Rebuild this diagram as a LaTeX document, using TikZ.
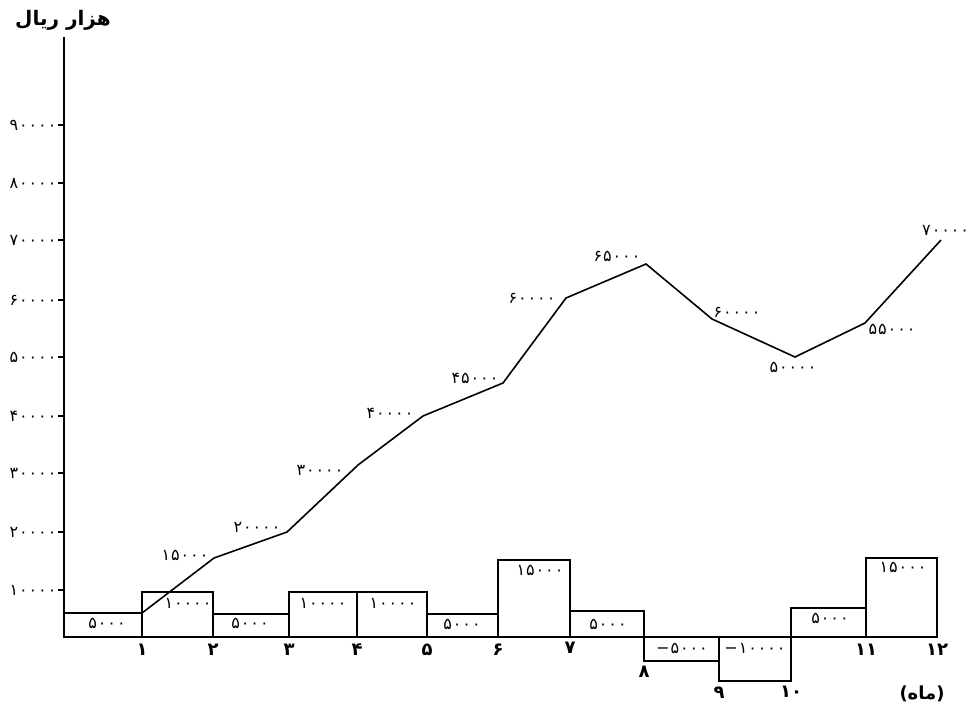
\documentclass[tikz,border=0pt]{standalone}
\usepackage{fontspec}
\newfontfamily\fa{DejaVu Sans}
\newfontfamily\faspaced{DejaVu Sans}[LetterSpace=6]
\newfontfamily\arabicfont[Script=Arabic]{DejaVu Sans}
\TeXXeTstate=1
\tikzset{
  axisline/.style={line width=2pt},
  barbox/.style={draw, line width=1.6pt},
  curveline/.style={line width=1.6pt, line join=miter},
  num/.style={font=\faspaced\fontsize{16}{18}\selectfont, inner sep=0pt},
  mon/.style={font=\fa\bfseries\fontsize{18}{20}\selectfont, inner sep=0pt},
  ttl/.style={font=\arabicfont\bfseries\fontsize{20}{24}\selectfont, inner sep=0pt},
}
\begin{document}
\begin{tikzpicture}[x=1pt,y=-1pt]
\useasboundingbox (0,0) rectangle (968,705);
% title
\node[ttl] (title) at (63,20) {\beginR هزار ریال\endR};
% axes
\coordinate (o) at (64,637);
\coordinate (ytop) at (64,37);
\coordinate (xend) at (937,637);
\draw[axisline] (ytop) -- (o) -- (xend);
% y ticks and labels
\foreach \y/\t in {125/۹۰۰۰۰,183/۸۰۰۰۰,240/۷۰۰۰۰,300/۶۰۰۰۰,357/۵۰۰۰۰,416/۴۰۰۰۰,473/۳۰۰۰۰,532/۲۰۰۰۰,590/۱۰۰۰۰}{
  \coordinate (t\y) at (64,\y);
  \draw[line width=1.2pt] (t\y) -- ++(-6,0) node[num, anchor=east, xshift=-1pt] (yl\y) {\t};
}
% bars
\draw[barbox] (64,637) rectangle (142,613);
\draw[barbox] (142,637) rectangle (213,592);
\draw[barbox] (213,637) rectangle (289,614);
\draw[barbox] (289,637) rectangle (357,592);
\draw[barbox] (357,637) rectangle (427,592);
\draw[barbox] (427,637) rectangle (498,614);
\draw[barbox] (498,637) rectangle (570,560);
\draw[barbox] (570,637) rectangle (644,611);
\draw[barbox] (644,637) rectangle (719,661);
\draw[barbox] (719,637) rectangle (791,681);
\draw[barbox] (791,637) rectangle (866,608);
\draw[barbox] (866,637) rectangle (937,558);
\draw[axisline] (o) -- (xend);
% bar labels
\node[num] (b1) at (107,623) {۵۰۰۰};
\node[num] (b2) at (188,603) {۱۰۰۰۰};
\node[num] (b3) at (250,623) {۵۰۰۰};
\node[num] (b4) at (323,603) {۱۰۰۰۰};
\node[num] (b5) at (393,603) {۱۰۰۰۰};
\node[num] (b6) at (462,624) {۵۰۰۰};
\node[num] (b7) at (540,570) {۱۵۰۰۰};
\node[num] (b8) at (608,624) {۵۰۰۰};
\node[num] (b9) at (682,648) {−۵۰۰۰};
\node[num] (b10) at (755,648) {−۱۰۰۰۰};
\node[num] (b11) at (830,618) {۵۰۰۰};
\node[num] (b12) at (903,567) {۱۵۰۰۰};
% month labels
\node[mon] (m1) at (142,650) {۱};
\node[mon] (m2) at (213,650) {۲};
\node[mon] (m3) at (289,650) {۳};
\node[mon] (m4) at (357,650) {۴};
\node[mon] (m5) at (427,650) {۵};
\node[mon] (m6) at (498,650) {۶};
\node[mon] (m7) at (570,648) {۷};
\node[mon] (m8) at (644,672) {۸};
\node[mon] (m9) at (719,693) {۹};
\node[mon] (m10) at (791,692) {۱۰};
\node[mon] (m11) at (866,650) {۱۱};
\node[mon] (m12) at (937,650) {۱۲};
\node[inner sep=0pt, font=\bfseries\fontsize{18}{20}\selectfont] (unit) at (922,694) {{\fa(}{\arabicfont\beginR ماه\endR}{\fa)}};
% cumulative curve
\coordinate (p1) at (142,613);
\coordinate (p2) at (214,558);
\coordinate (p3) at (287,532);
\coordinate (p4) at (358,465);
\coordinate (p5) at (423,416);
\coordinate (p6) at (503,383);
\coordinate (p7) at (566,298);
\coordinate (p8) at (646,264);
\coordinate (p9) at (712,319);
\coordinate (p10) at (795,357);
\coordinate (p11) at (865,323);
\coordinate (p12) at (941,240);
\draw[curveline] (p1) -- (p2) -- (p3) -- (p4) -- (p5) -- (p6) -- (p7) -- (p8) -- (p9) -- (p10) -- (p11) -- (p12);
% curve labels
\node[num] (c2) at (185,555) {۱۵۰۰۰};
\node[num] (c3) at (257,527) {۲۰۰۰۰};
\node[num] (c4) at (320,470) {۳۰۰۰۰};
\node[num] (c5) at (390,413) {۴۰۰۰۰};
\node[num] (c6) at (475,378) {۴۵۰۰۰};
\node[num] (c7) at (532,298) {۶۰۰۰۰};
\node[num] (c8) at (617,256) {۶۵۰۰۰};
\node[num] (c9) at (737,312) {۶۰۰۰۰};
\node[num] (c10) at (793,367) {۵۰۰۰۰};
\node[num] (c11) at (892,329) {۵۵۰۰۰};
\node[num, anchor=west] (c12) at (922,230) {۷۰۰۰۰};
\end{tikzpicture}
\end{document}
